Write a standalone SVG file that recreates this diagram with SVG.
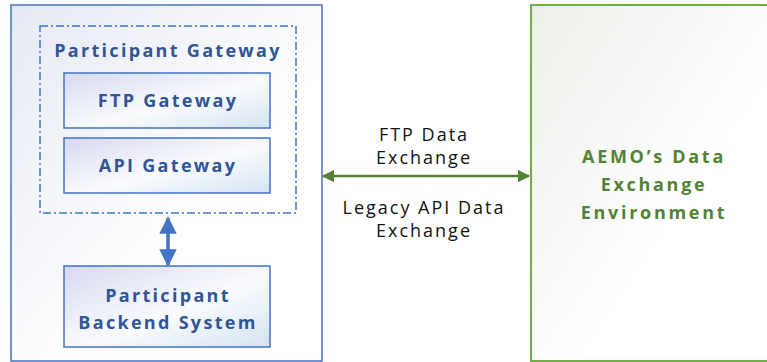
<svg xmlns="http://www.w3.org/2000/svg" width="767" height="362" viewBox="0 0 767 362">
<defs>
<linearGradient id="gOuter" x1="0" y1="0" x2="1" y2="1"><stop offset="0" stop-color="#E6E9F4"/><stop offset="0.6" stop-color="#FFFFFF"/></linearGradient>
<linearGradient id="gBox" x1="0" y1="0" x2="1" y2="1"><stop offset="0" stop-color="#D6D9EF"/><stop offset="0.55" stop-color="#FAFBFE"/><stop offset="1" stop-color="#D4E3F1"/></linearGradient>
<linearGradient id="gGreen" x1="0" y1="0" x2="1" y2="1"><stop offset="0" stop-color="#ECEFEA"/><stop offset="0.6" stop-color="#FFFFFF"/></linearGradient>
<marker id="aBlue" viewBox="0 0 10 10" refX="9" refY="5" markerWidth="5" markerHeight="5" orient="auto-start-reverse"><path d="M0,0 L10,5 L0,10 z" fill="#4472C4"/></marker>
<marker id="aGreen" viewBox="0 0 10 10" refX="9" refY="5" markerWidth="5" markerHeight="5" orient="auto-start-reverse"><path d="M0,0 L10,5 L0,10 z" fill="#548235"/></marker>
</defs>
<style>
.box{fill:url(#gBox);stroke:#4472C4;stroke-width:1.5}
.bt{font-family:"Open Sans","Liberation Sans",sans-serif;font-weight:bold;font-size:18px;fill:#2F5597;text-anchor:middle;letter-spacing:2.3px}
.lt{font-family:"Open Sans","Liberation Sans",sans-serif;font-size:18px;fill:#111;text-anchor:middle;letter-spacing:2px}
.gt{font-family:"Open Sans","Liberation Sans",sans-serif;font-weight:bold;font-size:18px;fill:#548235;text-anchor:middle;letter-spacing:2.7px}
</style>
<rect width="767" height="362" fill="#FFFFFF"/>
<g id="participant-env">
<rect x="11" y="5" width="311" height="356" fill="url(#gOuter)" stroke="#4472C4" stroke-width="1.5"/>
</g>
<g id="aemo-env">
<rect x="531" y="5" width="240" height="356" fill="url(#gGreen)" stroke="#70AD47" stroke-width="2"/>
<text class="gt" x="654" y="163">AEMO’s Data</text>
<text class="gt" x="654" y="191">Exchange</text>
<text class="gt" x="654" y="219">Environment</text>
</g>
<g id="participant-gateway">
<rect x="40" y="26" width="256" height="187" fill="none" stroke="#4472C4" stroke-width="1.5" stroke-dasharray="8,3,2,3"/>
<text class="bt" x="168" y="57">Participant Gateway</text>
</g>
<g id="ftp-gateway">
<rect class="box" x="64" y="73" width="206" height="55"/>
<text class="bt" x="168" y="107">FTP Gateway</text>
</g>
<g id="api-gateway">
<rect class="box" x="64" y="138" width="206" height="55"/>
<text class="bt" x="168" y="172">API Gateway</text>
</g>
<g id="backend">
<rect class="box" x="64" y="266" width="206" height="81"/>
<text class="bt" x="168" y="302">Participant</text>
<text class="bt" x="168" y="329">Backend System</text>
</g>
<g id="connectors">
<line x1="168" y1="218" x2="168" y2="265" stroke="#4472C4" stroke-width="3.5" marker-start="url(#aBlue)" marker-end="url(#aBlue)"/>
<line x1="323" y1="176" x2="529" y2="176" stroke="#548235" stroke-width="2.5" marker-start="url(#aGreen)" marker-end="url(#aGreen)"/>
<text class="lt" x="424" y="141">FTP Data</text>
<text class="lt" x="424" y="164">Exchange</text>
<text class="lt" x="424" y="214">Legacy API Data</text>
<text class="lt" x="424" y="237">Exchange</text>
</g>
</svg>
